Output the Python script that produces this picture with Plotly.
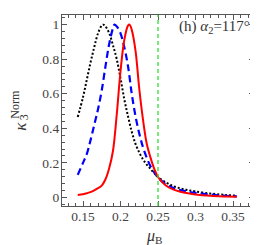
import plotly.graph_objects as go

mu_red = [0.143, 0.15, 0.155, 0.16, 0.165, 0.17, 0.175, 0.18, 0.185, 0.19, 0.195, 0.2, 0.205, 0.21, 0.212,
          0.215, 0.22, 0.225, 0.23, 0.235, 0.24, 0.245, 0.25, 0.26, 0.27, 0.28, 0.29, 0.3, 0.32, 0.34, 0.355]
k_red = [0.014, 0.018, 0.024, 0.030, 0.040, 0.053, 0.068, 0.105, 0.17, 0.27, 0.48, 0.73, 0.91, 0.995, 1.0,
         0.97, 0.85, 0.63, 0.45, 0.31, 0.23, 0.165, 0.118, 0.07, 0.046, 0.033, 0.024, 0.017, 0.009, 0.005, 0.003]

mu_blue = [0.143, 0.15, 0.155, 0.16, 0.165, 0.17, 0.175, 0.18, 0.185, 0.19, 0.192, 0.195, 0.2, 0.205, 0.21,
           0.215, 0.22, 0.225, 0.23, 0.235, 0.24, 0.245, 0.25, 0.26, 0.27, 0.28, 0.29, 0.3, 0.32, 0.34, 0.355]
k_blue = [0.13, 0.2, 0.25, 0.33, 0.42, 0.51, 0.62, 0.76, 0.89, 0.98, 1.0, 0.99, 0.95, 0.87, 0.76,
          0.6, 0.47, 0.37, 0.29, 0.23, 0.18, 0.145, 0.115, 0.078, 0.055, 0.042, 0.033, 0.026, 0.016, 0.009, 0.006]

mu_black = [0.143, 0.15, 0.155, 0.16, 0.165, 0.17, 0.175, 0.177, 0.18, 0.185, 0.19, 0.195, 0.2, 0.205, 0.21,
            0.215, 0.22, 0.225, 0.23, 0.235, 0.24, 0.245, 0.25, 0.26, 0.27, 0.28, 0.29, 0.3, 0.32, 0.34, 0.355]
k_black = [0.465, 0.58, 0.68, 0.78, 0.87, 0.95, 0.995, 1.0, 0.99, 0.95, 0.88, 0.80, 0.69, 0.57, 0.47,
           0.38, 0.31, 0.26, 0.22, 0.19, 0.165, 0.14, 0.118, 0.088, 0.066, 0.052, 0.042, 0.034, 0.022, 0.014, 0.010]

mu_line = 0.25
x_ticks = [0.15, 0.2, 0.25, 0.3, 0.35]
x_ticklabels = ["0.15", "0.2", "0.25", "0.3", "0.35"]
y_ticks = [0, 0.2, 0.4, 0.6, 0.8, 1]
y_ticklabels = ["0", "0.2", "0.4", "0.6", "0.8", "1"]

fig = go.Figure()
fig.add_trace(go.Scatter(x=mu_black, y=k_black, mode="lines", line=dict(color="black", width=2, dash="2px,2px", shape="spline")))
fig.add_trace(go.Scatter(x=mu_blue, y=k_blue, mode="lines", line=dict(color="#0000ff", width=2.2, dash="7px,4px", shape="spline")))
fig.add_trace(go.Scatter(x=mu_red, y=k_red, mode="lines", line=dict(color="#ff0000", width=2, shape="spline")))

fig.add_shape(type="line", x0=mu_line, x1=mu_line, y0=0, y1=1, xref="x", yref="paper",
              line=dict(color="#33dd33", width=1.3, dash="4px,3px"))

axis_common = dict(showgrid=False, zeroline=False, showline=True, linecolor="#555", linewidth=1.2,
                   mirror="allticks", ticks="inside", ticklen=5, tickcolor="#555", tickwidth=1,
                   tickfont=dict(family="Liberation Serif", size=13.5, color="#444"))

fig.update_xaxes(range=[0.122, 0.378], tickvals=x_ticks, ticktext=x_ticklabels, ticklabelstandoff=-2,
                 minor=dict(dtick=0.01, tick0=0.15, ticks="inside", ticklen=3, tickcolor="#555"),
                 **axis_common)
fig.update_yaxes(range=[-0.05, 1.056], tickvals=y_ticks, ticktext=y_ticklabels, ticklabelstandoff=-1,
                 minor=dict(dtick=0.04, tick0=0, ticks="inside", ticklen=3, tickcolor="#555"),
                 **axis_common)

ann_font = dict(family="Liberation Serif", color="#333")
fig.add_annotation(x=0.99, y=0.935, xref="paper", yref="paper", xanchor="right", yanchor="middle",
                   text="(h) <i>α</i><sub>2</sub>=117°", showarrow=False, font=dict(size=15, **ann_font))
fig.add_annotation(x=0.484, y=-0.16, xref="paper", yref="paper", xanchor="center", yanchor="middle",
                   text="<i>μ</i><sub>B</sub>", showarrow=False, font=dict(size=16, **ann_font))
fig.add_annotation(x=-0.2135, y=0.415, xref="paper", yref="paper", xanchor="center", yanchor="middle",
                   text="<i>κ</i>", textangle=-90, showarrow=False, font=dict(size=17, **ann_font))
fig.add_annotation(x=-0.196, y=0.466, xref="paper", yref="paper", xanchor="center", yanchor="middle",
                   text="3", textangle=-90, showarrow=False, font=dict(size=12, **ann_font))
fig.add_annotation(x=-0.245, y=0.535, xref="paper", yref="paper", xanchor="center", yanchor="middle",
                   text="Norm", textangle=-90, showarrow=False, font=dict(size=12, **ann_font))

fig.update_layout(width=258, height=245, margin=dict(l=54, r=12, t=7, b=47),
                  paper_bgcolor="white", plot_bgcolor="white", showlegend=False)

fig.write_html("out.html")
